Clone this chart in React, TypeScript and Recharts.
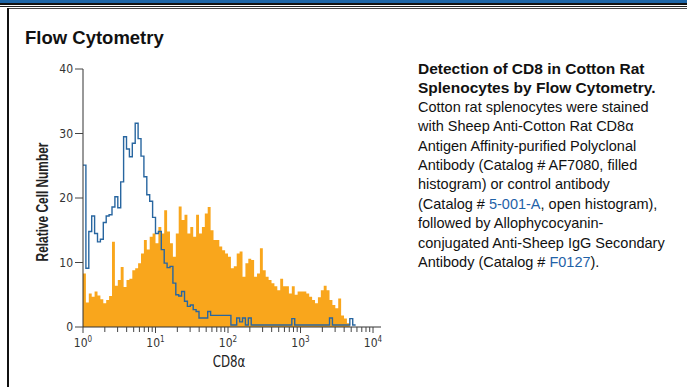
import { ComposedChart, Area, Line, XAxis, YAxis } from 'recharts';

// log10 bins of the CD8 channel, one value per bin
const BIN_WIDTH = 0.04;

// filled histogram: Sheep Anti-Cotton Rat CD8a (AF7080)
const cd8Filled = [
  8.3, 3.8, 5.2, 4.7, 5.5, 4.9, 4.3, 3.7, 4.2, 4.8,
  13.2, 6.4, 7.3, 9.3, 6.2, 7.3, 7.5, 8.8, 9.1, 9.9,
  11.4, 13.5, 12.0, 14.0, 14.5, 13.0, 15.5, 14.5, 18.1, 14.8,
  13.0, 10.9, 14.5, 18.7, 16.6, 17.4, 14.5, 15.5, 14.0, 17.4,
  14.5, 15.5, 17.6, 18.6, 15.0, 13.5, 13.5, 12.5, 11.9, 11.4,
  10.9, 9.1, 9.4, 11.4, 11.7, 7.8, 9.9, 10.6, 10.4, 7.8,
  8.3, 12.2, 8.8, 7.8, 7.3, 6.8, 6.3, 5.7, 7.5, 6.3,
  6.3, 5.2, 6.3, 5.0, 5.5, 5.5, 5.5, 5.2, 4.7, 4.2,
  3.7, 4.6, 5.7, 6.4, 5.7, 4.2, 3.4, 2.9, 4.4, 1.8,
  1.3, 0.6, 0,
];

// open histogram: control antibody (5-001-A)
const controlOpen = [
  25.1, 9.1, 14.8, 17.2, 14.5, 13.2, 13.6, 16.2, 17.2, 17.4,
  18.6, 20.2, 18.5, 22.5, 29.5, 27.6, 26.4, 28.5, 31.6, 29.2,
  26.5, 23.3, 20.5, 19.5, 17.0, 14.5, 14.8, 12.0, 9.9, 9.2,
  9.4, 6.8, 5.0, 4.8, 5.5, 4.0, 3.2, 3.4, 2.7, 2.4,
  1.4, 1.4, 1.4, 2.4, 1.8, 1.8, 1.8, 1.8, 1.8, 1.8,
  1.8, 0.3, 0.3, 1.4, 0.8, 1.4, 0.3, 1.4, 0.3, 0.3,
  0.3, 0.3, 0.3, 0.3, 0.3, 0.3, 0.3, 0.3, 0.3, 0.3,
  0.3, 0.3, 1.3, 0.3, 0.3, 0.3, 0.3, 0.3, 0.3, 0.3,
  0.3, 0.3, 0.3, 0.3, 0.3, 1.4, 0.3, 0.3, 0.3, 0.3,
  0.3, 0.3, 1.3, 0.3,
];

const decades = [0, 1, 2, 3, 4];
const minorSteps = [2, 3, 4, 5, 6, 7, 8, 9];
const yTicks = [0, 10, 20, 30, 40];

const xTicks = [
  ...decades,
  ...decades.slice(0, 4).flatMap((d) => minorSteps.map((m) => d + Math.log10(m))),
];

const rowCount = Math.max(cd8Filled.length, controlOpen.length) + 1;
const chartData = Array.from({ length: rowCount }, (_, i) => ({
  x: i * BIN_WIDTH,
  cd8: cd8Filled[i] ?? 0,
  ctrl: controlOpen[i] ?? controlOpen[controlOpen.length - 1],
}));

const AXIS_FONT = "'DejaVu Sans Condensed', 'Liberation Sans', sans-serif";
const TEXT_FONT = "'Liberation Sans', Arial, sans-serif";
const ORANGE = '#f9a61c';
const OUTLINE = '#2866a0';
const LINK = '#1f62a8';

const XTick = (props: any) => {
  const { x, y, payload } = props;
  const v = payload.value as number;
  const decade = Math.round(v);
  const major = Math.abs(v - decade) < 1e-6;
  return (
    <g>
      <line x1={x} x2={x} y1={y} y2={y + (major ? 6 : 5)} stroke="#444" strokeWidth={1} />
      {major && (
        <text x={x} y={y + 20} textAnchor="middle" fontSize={12} fill="#333" fontFamily={AXIS_FONT}>
          10
          <tspan dy={-5} fontSize={8}>
            {decade}
          </tspan>
        </text>
      )}
    </g>
  );
};

const YTick = (props: any) => {
  const { x, y, payload } = props;
  return (
    <g>
      <line x1={x - 8} x2={x} y1={y} y2={y} stroke="#444" strokeWidth={1} />
      <text x={x - 10} y={y + 4} textAnchor="end" fontSize={12} fill="#333" fontFamily={AXIS_FONT}>
        {payload.value}
      </text>
    </g>
  );
};

export default function App() {
  return (
    <div
      style={{
        position: 'fixed',
        left: 0,
        top: 0,
        width: 687,
        height: 387,
        background: '#fff',
        overflow: 'hidden',
        fontFamily: TEXT_FONT,
      }}
    >
      {/* header rules and frame */}
      <div style={{ position: 'absolute', left: 0, top: 0, width: 687, height: 3, background: '#1d66a8' }} />
      <div style={{ position: 'absolute', left: 0, top: 3, width: 687, height: 1.5, background: '#111' }} />
      <div style={{ position: 'absolute', left: 0, top: 6, width: 687, height: 1, background: '#222' }} />
      <div style={{ position: 'absolute', left: 7, top: 8, width: 680, height: 1, background: '#444' }} />
      <div style={{ position: 'absolute', left: 7, top: 8, width: 2, height: 379, background: '#111' }} />

      <div
        style={{
          position: 'absolute',
          left: 25,
          top: 27,
          fontSize: 18.5,
          fontWeight: 700,
          color: '#111',
          whiteSpace: 'nowrap',
        }}
      >
        Flow Cytometry
      </div>

      <div style={{ position: 'absolute', left: 0, top: 0 }}>
        <ComposedChart width={400} height={387} data={chartData} margin={{ top: 69, right: 19, bottom: 30, left: 23 }}>
          <XAxis
            dataKey="x"
            type="number"
            domain={[0, 4.11]}
            ticks={xTicks}
            interval={0}
            tickSize={0}
            tickMargin={0}
            tickLine={false}
            tick={<XTick />}
            axisLine={{ stroke: '#333', strokeWidth: 1 }}
            height={30}
          />
          <YAxis
            type="number"
            domain={[0, 40]}
            ticks={yTicks}
            interval={0}
            tickSize={0}
            tickMargin={0}
            tickLine={false}
            tick={<YTick />}
            axisLine={{ stroke: '#333', strokeWidth: 1 }}
            width={60}
          />
          <Area
            dataKey="cd8"
            type="stepAfter"
            fill={ORANGE}
            fillOpacity={1}
            stroke="none"
            isAnimationActive={false}
          />
          <Line
            dataKey="ctrl"
            type="stepAfter"
            stroke={OUTLINE}
            strokeWidth={1.4}
            dot={false}
            isAnimationActive={false}
          />
        </ComposedChart>
      </div>

      <div
        style={{
          position: 'absolute',
          left: 42,
          top: 202,
          transform: 'translate(-50%, -50%) rotate(-90deg) scaleX(0.72)',
          whiteSpace: 'nowrap',
          fontSize: 16.5,
          fontWeight: 700,
          color: '#222',
        }}
      >
        Relative Cell Number
      </div>
      <div
        style={{
          position: 'absolute',
          left: 229,
          top: 361,
          transform: 'translate(-50%, -50%) scaleX(0.82)',
          whiteSpace: 'nowrap',
          fontFamily: AXIS_FONT,
          fontSize: 16,
          color: '#222',
        }}
      >
        CD8α
      </div>

      <div style={{ position: 'absolute', left: 418, top: 59, color: '#111', whiteSpace: 'nowrap' }}>
        <div style={{ fontSize: 15.5, fontWeight: 700, lineHeight: '19.4px' }}>
          Detection of CD8 in Cotton Rat
          <br />
          Splenocytes by Flow Cytometry.
        </div>
        <div style={{ fontSize: 14.5, lineHeight: '19.4px' }}>
          Cotton rat splenocytes were stained
          <br />
          with Sheep Anti-Cotton Rat CD8α
          <br />
          Antigen Affinity-purified Polyclonal
          <br />
          Antibody (Catalog # AF7080, filled
          <br />
          histogram) or control antibody
          <br />
          (Catalog # <span style={{ color: LINK }}>5-001-A</span>, open histogram),
          <br />
          followed by Allophycocyanin-
          <br />
          conjugated Anti-Sheep IgG Secondary
          <br />
          Antibody (Catalog # <span style={{ color: LINK }}>F0127</span>).
        </div>
      </div>
    </div>
  );
}
